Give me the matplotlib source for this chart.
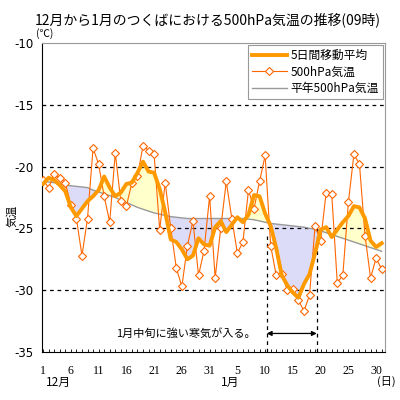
import numpy as np
import matplotlib
matplotlib.use('Agg')
import matplotlib.pyplot as plt
from matplotlib.ticker import MultipleLocator

plt.rcParams['font.family'] = ['Noto Sans CJK JP', 'DejaVu Sans']

# 12/1 .. 1/31 (62 days)
daily = [-21.1, -21.7, -20.6, -20.9, -21.3, -23.1, -24.2, -27.2, -24.2, -18.5,
         -19.8, -22.4, -24.5, -18.9, -22.8, -23.2, -21.3, -20.8, -18.3, -18.7,
         -19.0, -25.1, -21.3, -25.0, -28.2, -29.7, -26.4, -24.4, -28.8, -26.8,
         -22.4, -29.0, -25.0, -21.2, -24.2, -27.0, -26.1, -21.9, -23.4, -21.2,
         -19.1, -26.4, -28.8, -28.7, -30.0, -29.9, -30.8, -31.7, -30.4, -24.8,
         -26.0, -22.1, -22.2, -29.4, -28.8, -22.9, -19.0, -19.8, -25.6, -29.0,
         -27.4, -28.3]

moving5 = [-21.4, -20.9, -21.1, -21.5, -22.0, -23.3, -24.0, -23.4, -22.8, -22.4,
           -21.9, -20.8, -21.7, -22.4, -22.1, -21.4, -21.3, -20.5, -19.6, -20.4,
           -20.5, -21.8, -23.7, -25.9, -26.1, -26.7, -27.5, -27.2, -25.8, -26.3,
           -26.4, -24.9, -24.4, -25.3, -24.7, -24.1, -24.5, -23.9, -22.3, -22.4,
           -23.8, -24.8, -26.6, -28.8, -29.6, -30.2, -30.6, -29.5, -28.7, -27.0,
           -25.1, -24.9, -25.7, -25.1, -24.5, -24.0, -23.2, -23.3, -24.2, -26.0,
           -26.5, -26.2]

normal = [-21.2, -21.25, -21.3, -21.4, -21.5, -21.55, -21.6, -21.65, -21.7, -21.9,
          -22.05, -22.2, -22.35, -22.5, -22.7, -22.9, -23.1, -23.3, -23.45, -23.6,
          -23.75, -23.85, -23.95, -24.05, -24.1, -24.15, -24.2, -24.2, -24.2, -24.2,
          -24.2, -24.2, -24.2, -24.2, -24.2, -24.2, -24.2, -24.25, -24.3, -24.4,
          -24.5, -24.6, -24.65, -24.7, -24.75, -24.8, -24.85, -24.9, -25.0, -25.05,
          -25.2, -25.35, -25.5, -25.65, -25.8, -25.95, -26.1, -26.25, -26.4, -26.55,
          -26.7, -26.85]

tick_pos = [0, 5, 10, 15, 20, 25, 30, 35, 40, 45, 50, 55, 60]
tick_labels = ['1', '6', '11', '16', '21', '26', '31', '5', '10', '15', '20', '25', '30']
yticks = [-10, -15, -20, -25, -30, -35]

cold_start, cold_end = 40.3, 49.3

x = np.arange(len(daily))
daily = np.array(daily)
moving5 = np.array(moving5)
normal = np.array(normal)

fig = plt.figure(figsize=(4, 4), dpi=100)
ax = fig.add_axes([0.105, 0.12, 0.8575, 0.7725])

ax.fill_between(x, moving5, normal, where=moving5 >= normal, interpolate=True,
                color='#FFFFCC', lw=0)
ax.fill_between(x, moving5, normal, where=moving5 <= normal, interpolate=True,
                color='#DCDCF8', lw=0)

for yv in [-15, -20, -25, -30]:
    ax.axhline(yv, color='black', lw=0.9, ls=(0, (3, 3)), zorder=1)

l_norm, = ax.plot(x, normal, color='#999999', lw=1.0, label='平年500hPa気温', zorder=2)
l_daily, = ax.plot(x, daily, color='#FF6600', lw=0.8, marker='D', ms=4, mfc='white',
                   mec='#FF6600', mew=0.8, label='500hPa気温', zorder=3)
l_ma, = ax.plot(x, moving5, color='#FF9900', lw=2.8, label='5日間移動平均', zorder=4)

# cold air annotation
ax.plot([cold_start, cold_start], [-35, -25.6], color='black', lw=0.9, ls=(0, (3, 3)))
ax.plot([cold_end, cold_end], [-35, -24.8], color='black', lw=0.9, ls=(0, (3, 3)))
ax.annotate('', xy=(cold_start, -33.5), xytext=(cold_end, -33.5),
            arrowprops=dict(arrowstyle='<|-|>', color='black', lw=0.9,
                            mutation_scale=7, shrinkA=0, shrinkB=0))
ax.text(38.3, -33.5, '1月中旬に強い寒気が入る。', ha='right', va='center', fontsize=8)

ax.set_xlim(-0.2, 61.6)
ax.set_ylim(-35, -10)
ax.set_yticks(yticks)
ax.set_yticklabels([str(v) for v in yticks], fontsize=8.5, family='DejaVu Sans')
ax.tick_params(axis='y', length=0, pad=6)
ax.set_xticks(tick_pos)
ax.set_xticklabels(tick_labels, fontsize=8.5, family='Liberation Serif')
ax.xaxis.set_minor_locator(MultipleLocator(1))
ax.tick_params(axis='x', which='both', direction='in', length=2.5, width=0.6, pad=9)

for side in ['top', 'right']:
    ax.spines[side].set_color('#999999')
for side in ['left', 'bottom']:
    ax.spines[side].set_color('black')

leg = ax.legend(handles=[l_ma, l_daily, l_norm], loc='upper right', fontsize=8.5,
                frameon=True, fancybox=False, framealpha=1, edgecolor='#999999',
                handlelength=3.0, borderaxespad=0.15, labelspacing=0.3,
                handletextpad=0.3, borderpad=0.35)
leg.get_frame().set_linewidth(0.8)

fig.text(0.52, 0.95, '12月から1月のつくばにおける500hPa気温の推移(09時)',
         ha='center', va='center', fontsize=10)
fig.text(0.09, 0.915, '(℃)', ha='left', va='center', fontsize=7.5)
fig.text(0.03, 0.46, '気温', ha='center', va='center', rotation=90, fontsize=8)
fig.text(0.145, 0.043, '12月', ha='center', va='center', fontsize=8.5)
fig.text(0.575, 0.043, '1月', ha='center', va='center', fontsize=8.5)
fig.text(0.965, 0.045, '(日)', ha='center', va='center', fontsize=8)

fig.savefig('out.png', dpi=100)
